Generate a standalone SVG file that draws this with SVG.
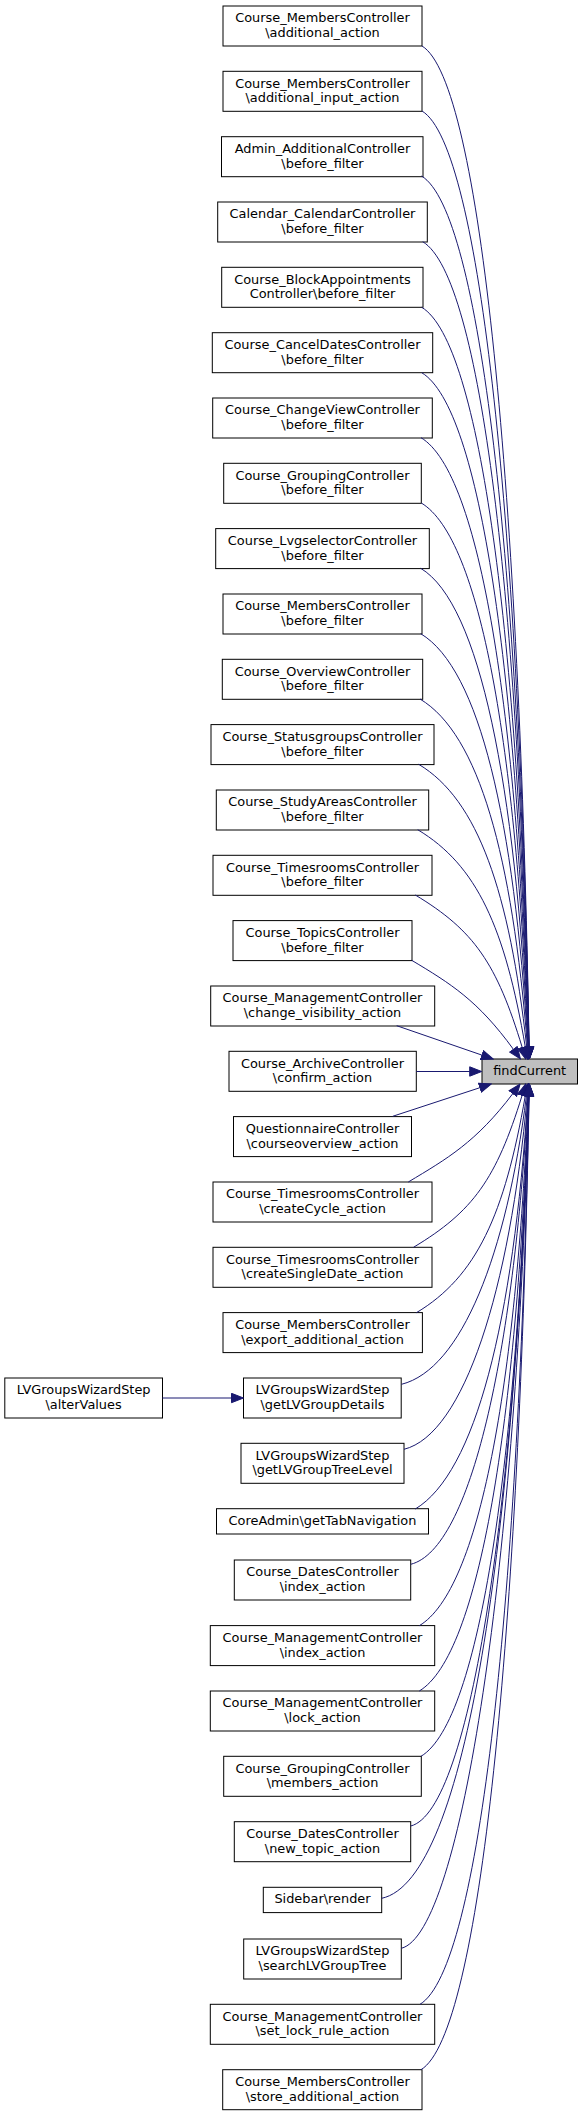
<svg xmlns="http://www.w3.org/2000/svg" width="583" height="2116" viewBox="0 0 583 2116">
<defs>
<style>
.n rect{fill:#ffffff;stroke:#000000;stroke-width:1}
.n text{font-family:"DejaVu Sans",Verdana,sans-serif;font-size:12.9px;text-anchor:middle;fill:#000000}
.hl rect{fill:#bfbfbf}
.e path{fill:none;stroke:#191970;stroke-width:1;marker-end:url(#ah)}
</style>
<marker id="ah" viewBox="0 0 13 11" markerWidth="13" markerHeight="11" refX="0.5" refY="5.5" orient="auto" markerUnits="userSpaceOnUse"><path d="M0.5,0.8 L12.5,5.5 L0.5,10.2 Z" fill="#191970" stroke="#191970" stroke-width="1"/></marker>
</defs>
<rect x="0" y="0" width="583" height="2116" fill="#ffffff"/>
<g id="nodes">
<g id="n0" class="n"><rect x="223" y="6" width="199" height="40"/><text x="322.5" y="22.3">Course_MembersController</text><text x="322.5" y="37">\additional_action</text></g>
<g id="n1" class="n"><rect x="223" y="71.3" width="199" height="40"/><text x="322.5" y="87.6">Course_MembersController</text><text x="322.5" y="102.3">\additional_input_action</text></g>
<g id="n2" class="n"><rect x="221.5" y="136.7" width="201.5" height="40"/><text x="322.5" y="153">Admin_AdditionalController</text><text x="322.5" y="167.7">\before_filter</text></g>
<g id="n3" class="n"><rect x="217.7" y="202" width="209.6" height="40"/><text x="322.5" y="218.3">Calendar_CalendarController</text><text x="322.5" y="233">\before_filter</text></g>
<g id="n4" class="n"><rect x="221.7" y="267.3" width="201.3" height="40"/><text x="322.5" y="283.6">Course_BlockAppointments</text><text x="322.5" y="298.3">Controller\before_filter</text></g>
<g id="n5" class="n"><rect x="212.3" y="332.7" width="220.4" height="40"/><text x="322.5" y="349">Course_CancelDatesController</text><text x="322.5" y="363.7">\before_filter</text></g>
<g id="n6" class="n"><rect x="212.7" y="398" width="219.6" height="40"/><text x="322.5" y="414.3">Course_ChangeViewController</text><text x="322.5" y="429">\before_filter</text></g>
<g id="n7" class="n"><rect x="223.7" y="463.3" width="197.6" height="40"/><text x="322.5" y="479.6">Course_GroupingController</text><text x="322.5" y="494.3">\before_filter</text></g>
<g id="n8" class="n"><rect x="215.7" y="528.6" width="213.6" height="40"/><text x="322.5" y="544.9">Course_LvgselectorController</text><text x="322.5" y="559.6">\before_filter</text></g>
<g id="n9" class="n"><rect x="223" y="594" width="199" height="40"/><text x="322.5" y="610.3">Course_MembersController</text><text x="322.5" y="625">\before_filter</text></g>
<g id="n10" class="n"><rect x="222.3" y="659.3" width="200.4" height="40"/><text x="322.5" y="675.6">Course_OverviewController</text><text x="322.5" y="690.3">\before_filter</text></g>
<g id="n11" class="n"><rect x="211" y="724.6" width="223" height="40"/><text x="322.5" y="740.9">Course_StatusgroupsController</text><text x="322.5" y="755.6">\before_filter</text></g>
<g id="n12" class="n"><rect x="216.3" y="790" width="212.4" height="40"/><text x="322.5" y="806.3">Course_StudyAreasController</text><text x="322.5" y="821">\before_filter</text></g>
<g id="n13" class="n"><rect x="213" y="855.3" width="219" height="40"/><text x="322.5" y="871.6">Course_TimesroomsController</text><text x="322.5" y="886.3">\before_filter</text></g>
<g id="n14" class="n"><rect x="233" y="920.6" width="179" height="40"/><text x="322.5" y="936.9">Course_TopicsController</text><text x="322.5" y="951.6">\before_filter</text></g>
<g id="n15" class="n"><rect x="210.7" y="986" width="224" height="40"/><text x="322.5" y="1002.3">Course_ManagementController</text><text x="322.5" y="1017">\change_visibility_action</text></g>
<g id="n16" class="n"><rect x="229" y="1051.3" width="187.3" height="40"/><text x="322.5" y="1067.6">Course_ArchiveController</text><text x="322.5" y="1082.3">\confirm_action</text></g>
<g id="n17" class="n"><rect x="233.5" y="1116.6" width="178" height="40"/><text x="322.5" y="1132.9">QuestionnaireController</text><text x="322.5" y="1147.6">\courseoverview_action</text></g>
<g id="n18" class="n"><rect x="213" y="1182" width="219" height="40"/><text x="322.5" y="1198.3">Course_TimesroomsController</text><text x="322.5" y="1213">\createCycle_action</text></g>
<g id="n19" class="n"><rect x="213" y="1247.3" width="219" height="40"/><text x="322.5" y="1263.6">Course_TimesroomsController</text><text x="322.5" y="1278.3">\createSingleDate_action</text></g>
<g id="n20" class="n"><rect x="223" y="1312.6" width="199.4" height="40"/><text x="322.5" y="1328.9">Course_MembersController</text><text x="322.5" y="1343.6">\export_additional_action</text></g>
<g id="n21" class="n"><rect x="243.5" y="1378" width="157.7" height="40"/><text x="322.5" y="1394.3">LVGroupsWizardStep</text><text x="322.5" y="1409">\getLVGroupDetails</text></g>
<g id="n22" class="n"><rect x="241" y="1443.3" width="163" height="40"/><text x="322.5" y="1459.6">LVGroupsWizardStep</text><text x="322.5" y="1474.3">\getLVGroupTreeLevel</text></g>
<g id="n23" class="n"><rect x="216.5" y="1508.7" width="212" height="25.3"/><text x="322.5" y="1524.7">CoreAdmin\getTabNavigation</text></g>
<g id="n24" class="n"><rect x="234.3" y="1560" width="176.4" height="40"/><text x="322.5" y="1576.3">Course_DatesController</text><text x="322.5" y="1591">\index_action</text></g>
<g id="n25" class="n"><rect x="210.3" y="1625.6" width="224.4" height="40"/><text x="322.5" y="1641.9">Course_ManagementController</text><text x="322.5" y="1656.6">\index_action</text></g>
<g id="n26" class="n"><rect x="210.3" y="1691" width="224.4" height="40"/><text x="322.5" y="1707.3">Course_ManagementController</text><text x="322.5" y="1722">\lock_action</text></g>
<g id="n27" class="n"><rect x="223.7" y="1756.3" width="197.6" height="40"/><text x="322.5" y="1772.6">Course_GroupingController</text><text x="322.5" y="1787.3">\members_action</text></g>
<g id="n28" class="n"><rect x="234.3" y="1821.7" width="176.4" height="40"/><text x="322.5" y="1838">Course_DatesController</text><text x="322.5" y="1852.7">\new_topic_action</text></g>
<g id="n29" class="n"><rect x="263.3" y="1887.3" width="118.4" height="25.3"/><text x="322.5" y="1903.3">Sidebar\render</text></g>
<g id="n30" class="n"><rect x="243.7" y="1939" width="157.6" height="40"/><text x="322.5" y="1955.3">LVGroupsWizardStep</text><text x="322.5" y="1970">\searchLVGroupTree</text></g>
<g id="n31" class="n"><rect x="210.3" y="2004.3" width="224.4" height="40"/><text x="322.5" y="2020.6">Course_ManagementController</text><text x="322.5" y="2035.3">\set_lock_rule_action</text></g>
<g id="n32" class="n"><rect x="222.7" y="2069.7" width="199.3" height="40"/><text x="322.5" y="2086">Course_MembersController</text><text x="322.5" y="2100.7">\store_additional_action</text></g>
<g id="n_alter" class="n"><rect x="4.8" y="1378" width="157.7" height="40"/><text x="83.6" y="1394.3">LVGroupsWizardStep</text><text x="83.6" y="1409">\alterValues</text></g>
<g id="n_find" class="n hl"><rect x="482" y="1059" width="95.5" height="25"/><text x="529.7" y="1075">findCurrent</text></g>
</g>
<g id="connectors" class="e">
<path d="M422,46 C480.9,81.3 519.65,496.4 529.08,1047"/>
<path d="M422,111 C480.9,146.3 519.4,532.2 529.04,1047"/>
<path d="M421.5,176 C480.6,211.5 519,568 528.99,1047"/>
<path d="M422.7,241.7 C481.1,276.7 518.8,604.1 528.93,1047"/>
<path d="M421.7,307.3 C480.6,342.6 518.2,640.2 528.86,1047"/>
<path d="M421.7,372.7 C480.6,408 517.7,676.1 528.77,1047"/>
<path d="M421,437.7 C480.2,473.2 517,711.9 528.65,1047"/>
<path d="M421.3,503 C480.3,538.4 516.3,747.8 528.5,1047"/>
<path d="M420.7,568.3 C479.9,603.8 515.2,783.7 528.29,1047"/>
<path d="M420.7,633.7 C479.7,669.1 513.95,819.7 527.99,1047"/>
<path d="M420,699 C479.1,734.5 512.1,855.6 527.52,1047"/>
<path d="M418.7,764.3 C478.1,799.9 509.3,891.6 526.76,1047.1"/>
<path d="M417.7,829.7 C476.9,865.2 504.95,927.6 525.35,1047.2"/>
<path d="M415.3,895 C474.1,930.3 496.8,963.6 522.23,1047.5"/>
<path d="M411.7,960.3 C450.6,983.6 477.9,1000.4 513.4,1049.3"/>
<path d="M396.7,1025.7 L481.9,1055.1"/>
<path d="M416.3,1071.5 L469.7,1071.5"/>
<path d="M392.7,1116.3 L479.9,1087.7"/>
<path d="M408.3,1182 C447,1158.8 476.1,1142.2 512.84,1093.58"/>
<path d="M413.5,1247.3 C473.2,1211.5 496.2,1179 522.08,1095.46"/>
<path d="M416.4,1312.7 C476.3,1276.8 504.6,1215.1 525.28,1095.82"/>
<path d="M401.5,1384.3 C461.5,1369.3 506.4,1254.5 526.43,1095.91"/>
<path d="M404,1449.3 C464,1434.3 509.7,1290.3 527.29,1095.95"/>
<path d="M415.3,1509 C475.3,1473 513.2,1323.2 527.91,1095.98"/>
<path d="M410.7,1564.3 C470.7,1549.3 513.7,1353.6 528.13,1095.98"/>
<path d="M419.3,1625.7 C479.3,1589.7 515.9,1387.3 528.44,1095.99"/>
<path d="M419.3,1691 C479.3,1655 516.7,1423.3 528.6,1096"/>
<path d="M421,1756.3 C480.2,1720.8 517.5,1459.2 528.74,1096"/>
<path d="M410.7,1826 C470.7,1811 517,1497.5 528.78,1096"/>
<path d="M381.7,1898.3 C467,1880 514.6,1537.3 528.72,1096"/>
<path d="M401.3,1948.3 C461.3,1933.3 516.9,1564.8 528.87,1096"/>
<path d="M420,2004.3 C480,1968.3 519.1,1595.6 529.01,1096"/>
<path d="M421,2069.7 C480.4,2034.1 519.45,1631.5 529.06,1096"/>
<path d="M162.5,1398 L231.5,1398"/>
</g>
</svg>
